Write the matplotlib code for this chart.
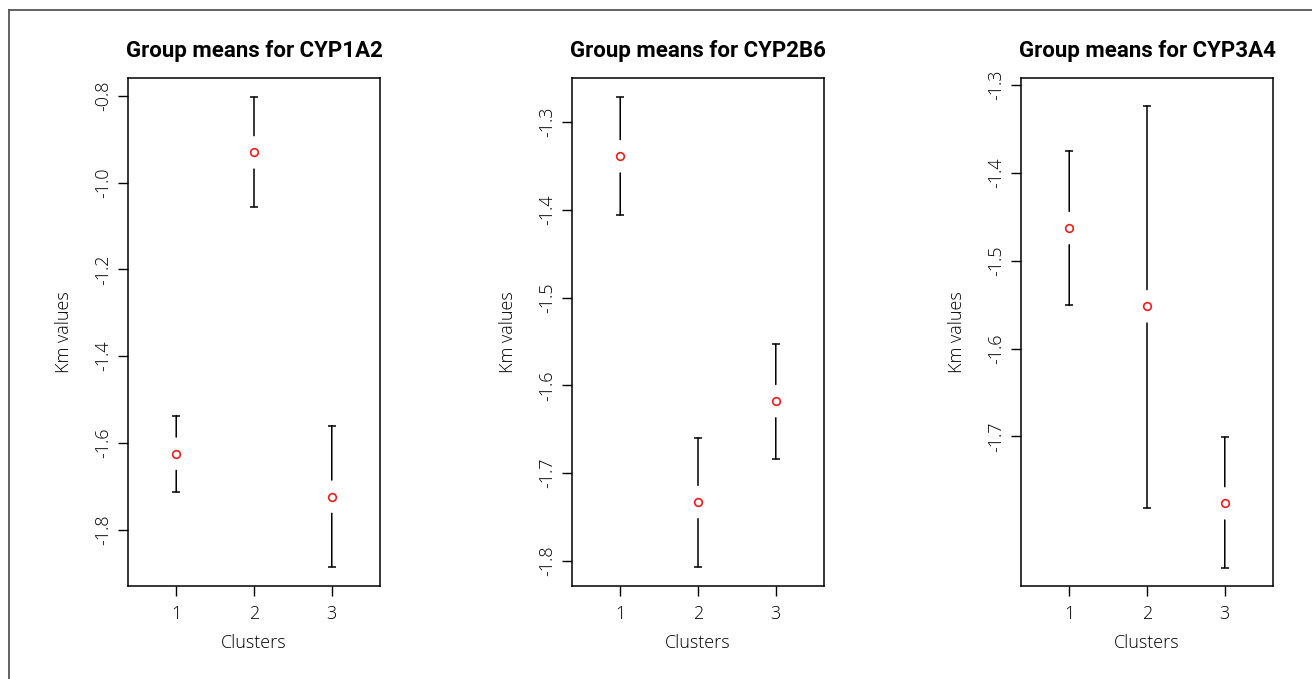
import matplotlib
matplotlib.use("Agg")
import matplotlib.pyplot as plt
from matplotlib.lines import Line2D

plt.rcParams['axes.unicode_minus'] = False
plt.rcParams['font.family'] = ['Open Sans', 'DejaVu Sans']

clusters = [1, 2, 3]
tick_labels = ["1", "2", "3"]

titles = ["Group means for CYP1A2", "Group means for CYP2B6", "Group means for CYP3A4"]

means_1a2 = [-1.625, -0.930, -1.724]
upper_1a2 = [-1.537, -0.803, -1.560]
lower_1a2 = [-1.713, -1.055, -1.886]

means_2b6 = [-1.339, -1.733, -1.618]
upper_2b6 = [-1.272, -1.660, -1.553]
lower_2b6 = [-1.406, -1.807, -1.684]

means_3a4 = [-1.463, -1.552, -1.776]
upper_3a4 = [-1.375, -1.324, -1.701]
lower_3a4 = [-1.551, -1.781, -1.849]

yticks_1a2 = [-1.8, -1.6, -1.4, -1.2, -1.0, -0.8]
yticks_2b6 = [-1.8, -1.7, -1.6, -1.5, -1.4, -1.3]
yticks_3a4 = [-1.7, -1.6, -1.5, -1.4, -1.3]

ylims = [(-1.930, -0.7585), (-1.8287, -1.2498), (-1.870, -1.2924)]

panels = [
    (means_1a2, upper_1a2, lower_1a2, yticks_1a2),
    (means_2b6, upper_2b6, lower_2b6, yticks_2b6),
    (means_3a4, upper_3a4, lower_3a4, yticks_3a4),
]

W, H = 1312, 679
fig = plt.figure(figsize=(W / 100, H / 100), dpi=100)

axes_px = [(128, 380), (572, 824), (1021, 1273)]
top_px, bot_px = 78, 586

GAP_PT = 12

for i, ((means, upper, lower, yt), (x0, x1)) in enumerate(zip(panels, axes_px)):
    ax = fig.add_axes([x0 / W, 1 - bot_px / H, (x1 - x0) / W, (bot_px - top_px) / H])
    for s in ax.spines.values():
        s.set_linewidth(1.1)
        s.set_color('black')
    for x, m, u, l in zip(clusters, means, upper, lower):
        ax.annotate('', xy=(x, u), xytext=(x, m),
                    arrowprops=dict(arrowstyle='-', lw=1.1, color='black',
                                    shrinkA=GAP_PT, shrinkB=0))
        ax.annotate('', xy=(x, l), xytext=(x, m),
                    arrowprops=dict(arrowstyle='-', lw=1.1, color='black',
                                    shrinkA=GAP_PT, shrinkB=0))
    ax.plot(clusters, upper, linestyle='none', marker='_', ms=6, mew=1.1, color='black')
    ax.plot(clusters, lower, linestyle='none', marker='_', ms=6, mew=1.1, color='black')
    ax.plot(clusters, means, linestyle='none', marker='o', ms=5.5, mfc='none',
            mec='#ee1c1c', mew=1.2)
    ax.set_xlim(0.38, 3.62)
    ax.set_ylim(*ylims[i])
    ax.set_xticks(clusters)
    ax.set_xticklabels(tick_labels)
    ax.set_yticks(yt)
    ax.set_yticklabels([f"{v:.1f}" for v in yt], rotation=90, va='center')
    ax.tick_params(axis='both', length=7.5, width=1.0, labelsize=13, colors='black')
    ax.tick_params(axis='x', pad=6)
    ax.tick_params(axis='y', pad=4)
    for lab in ax.get_xticklabels() + ax.get_yticklabels():
        lab.set_fontweight('light')
    ax.set_title(titles[i], fontsize=16, fontweight='bold', pad=15,
                 family=['Roboto', 'DejaVu Sans'])
    ax.set_xlabel("Clusters", fontsize=13, fontweight='light')
    ax.set_ylabel("Km values", fontsize=13, fontweight='light')
    ax.xaxis.set_label_coords(0.5, -0.094)
    ax.yaxis.set_label_coords(-0.218, 0.5)

# outer frame lines (top and left)
fig.add_artist(Line2D([9 / W, 1], [1 - 10 / H, 1 - 10 / H], color='#555555', lw=1.3))
fig.add_artist(Line2D([9 / W, 9 / W], [0, 1 - 10 / H], color='#555555', lw=1.3))

fig.savefig("out.png", dpi=100)
